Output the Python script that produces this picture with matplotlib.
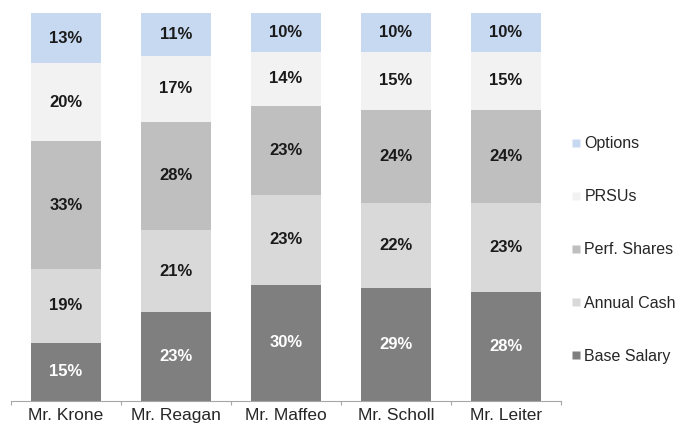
import matplotlib.pyplot as plt
from matplotlib.lines import Line2D

plt.rcParams['font.family'] = ['Liberation Sans', 'DejaVu Sans']

executives = ['Mr. Krone', 'Mr. Reagan', 'Mr. Maffeo', 'Mr. Scholl', 'Mr. Leiter']
components = ['Base Salary', 'Annual Cash', 'Perf. Shares', 'PRSUs', 'Options']
base_salary = [15, 23, 30, 29, 28]
annual_cash = [19, 21, 23, 22, 23]
perf_shares = [33, 28, 23, 24, 24]
prsus = [20, 17, 14, 15, 15]
options = [13, 11, 10, 10, 10]

series = [base_salary, annual_cash, perf_shares, prsus, options]
colors = ['#7f7f7f', '#d9d9d9', '#bfbfbf', '#f2f2f2', '#c6d9f1']
text_colors = ['white', '#1a1a1a', '#1a1a1a', '#1a1a1a', '#1a1a1a']

fig = plt.figure(figsize=(6.85, 4.3), dpi=100)
ax = fig.add_axes([11/685, 1 - 401/430, 550/685, 388/430])

x = list(range(len(executives)))
bottoms = [0] * len(executives)
for vals, col, tcol in zip(series, colors, text_colors):
    bars = ax.bar(x, vals, bottom=bottoms, width=0.636, color=col, edgecolor='none')
    for bar, v, b in zip(bars, vals, bottoms):
        ax.text(bar.get_x() + bar.get_width() / 2, b + v / 2, f'{v}%',
                ha='center', va='center', fontsize=12, fontweight='bold', color=tcol)
    bottoms = [b + v for b, v in zip(bottoms, vals)]

ax.set_xlim(-0.5, len(executives) - 0.5)
ax.set_ylim(0, 100)
ax.set_yticks([])
for side in ['left', 'right', 'top']:
    ax.spines[side].set_visible(False)
ax.spines['bottom'].set_color('#a6a6a6')

# category boundaries as ticks, labels centred under bars
ax.set_xticks([i - 0.5 for i in range(len(executives) + 1)])
ax.set_xticklabels([])
ax.tick_params(axis='x', which='major', length=3, color='#a6a6a6')
ax.set_xticks(x, minor=True)
ax.set_xticklabels(executives, minor=True, fontsize=12.5, color='#262626')
ax.tick_params(axis='x', which='minor', length=0, pad=5)

handles = [Line2D([], [], marker='s', linestyle='none', markersize=5.5,
                  markerfacecolor=c, markeredgecolor='none')
           for c in colors[::-1]]
fig.legend(handles, components[::-1], loc='center left',
           bbox_to_anchor=(558/685, 1 - 250/430), frameon=False,
           fontsize=11.5, labelspacing=2.38, handlelength=0.5,
           handletextpad=0.25, labelcolor='#262626')

fig.savefig('out.png', dpi=100)
